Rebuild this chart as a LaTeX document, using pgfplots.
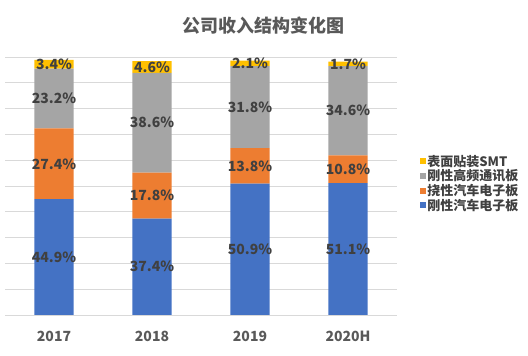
\documentclass[border=0pt]{standalone}
\usepackage{pgfplots}
\pgfplotsset{compat=1.18}
\usepackage{pgfplotstable}
\usepackage{fontspec}
\setmainfont{Noto Sans CJK SC}
\definecolor{cblue}{HTML}{4472C4}
\definecolor{corange}{HTML}{ED7D31}
\definecolor{cgray}{HTML}{A5A5A5}
\definecolor{cyellow}{HTML}{FFC000}
\definecolor{ctext}{HTML}{404040}
\definecolor{ctick}{HTML}{595959}
\definecolor{cgrid}{HTML}{D9D9D9}
\newcommand{\lf}{\fontsize{13}{15}\selectfont\bfseries}
\pgfplotstableread{
x blue orange gray yellow
0 44.9 27.4 23.2 3.4
1 37.4 17.8 38.6 4.6
2 50.9 13.8 31.8 2.1
3 51.1 10.8 34.6 1.7
}\datatable
\begin{document}
\begin{tikzpicture}
\path[use as bounding box] (-5pt,-41pt) rectangle (523pt,315pt);
\node[font=\fontsize{18}{20}\selectfont\bfseries, text=ctick] at (258pt,289pt) {公司收入结构变化图};
\begin{axis}[
  at={(0pt,0pt)}, anchor=south west,
  scale only axis, width=392pt, height=258pt,
  ybar stacked, bar width=0.4,
  xmin=-0.5, xmax=3.5, ymin=0, ymax=100,
  enlarge x limits=false, enlarge y limits=false,
  axis line style={draw=none},
  ytick={0,10,...,100}, yticklabels={},
  ymajorgrids, grid style={cgrid, line width=0.8pt},
  major tick length=0pt,
  /pgf/number format/assume math mode=true,
  xtick=data, xticklabels={2017,2018,2019,2020H},
  x tick label style={font=\fontsize{14}{16}\selectfont\bfseries, text=ctick, yshift=-13pt},
  nodes near coords={\pgfmathprintnumber[fixed,fixed zerofill,precision=1,assume math mode=true]{\pgfplotspointmeta}\%},
  every node near coord/.append style={anchor=center, font=\fontsize{14}{16}\selectfont\bfseries, text=ctext, inner sep=0pt},
  reverse legend,
  legend cell align=left,
  legend style={at={(1.05,0.51)}, anchor=west, draw=none, fill=none,
    text=ctext, row sep=0pt, font=\lf,
    nodes={inner xsep=1.5pt, inner ysep=1pt}},
  legend image code/.code={\fill[#1] (0pt,-3pt) rectangle (6pt,3pt);},
]
\addplot[fill=cblue, draw=none] table[x=x,y=blue,meta=blue] {\datatable};
\addlegendentry{刚性汽车电子板}
\addplot[fill=corange, draw=none] table[x=x,y=orange,meta=orange] {\datatable};
\addlegendentry{挠性汽车电子板}
\addplot[fill=cgray, draw=none] table[x=x,y=gray,meta=gray] {\datatable};
\addlegendentry{刚性高频通讯板}
\addplot[fill=cyellow, draw=none] table[x=x,y=yellow,meta=yellow] {\datatable};
\addlegendentry{表面贴装SMT}
\end{axis}
\end{tikzpicture}
\end{document}
